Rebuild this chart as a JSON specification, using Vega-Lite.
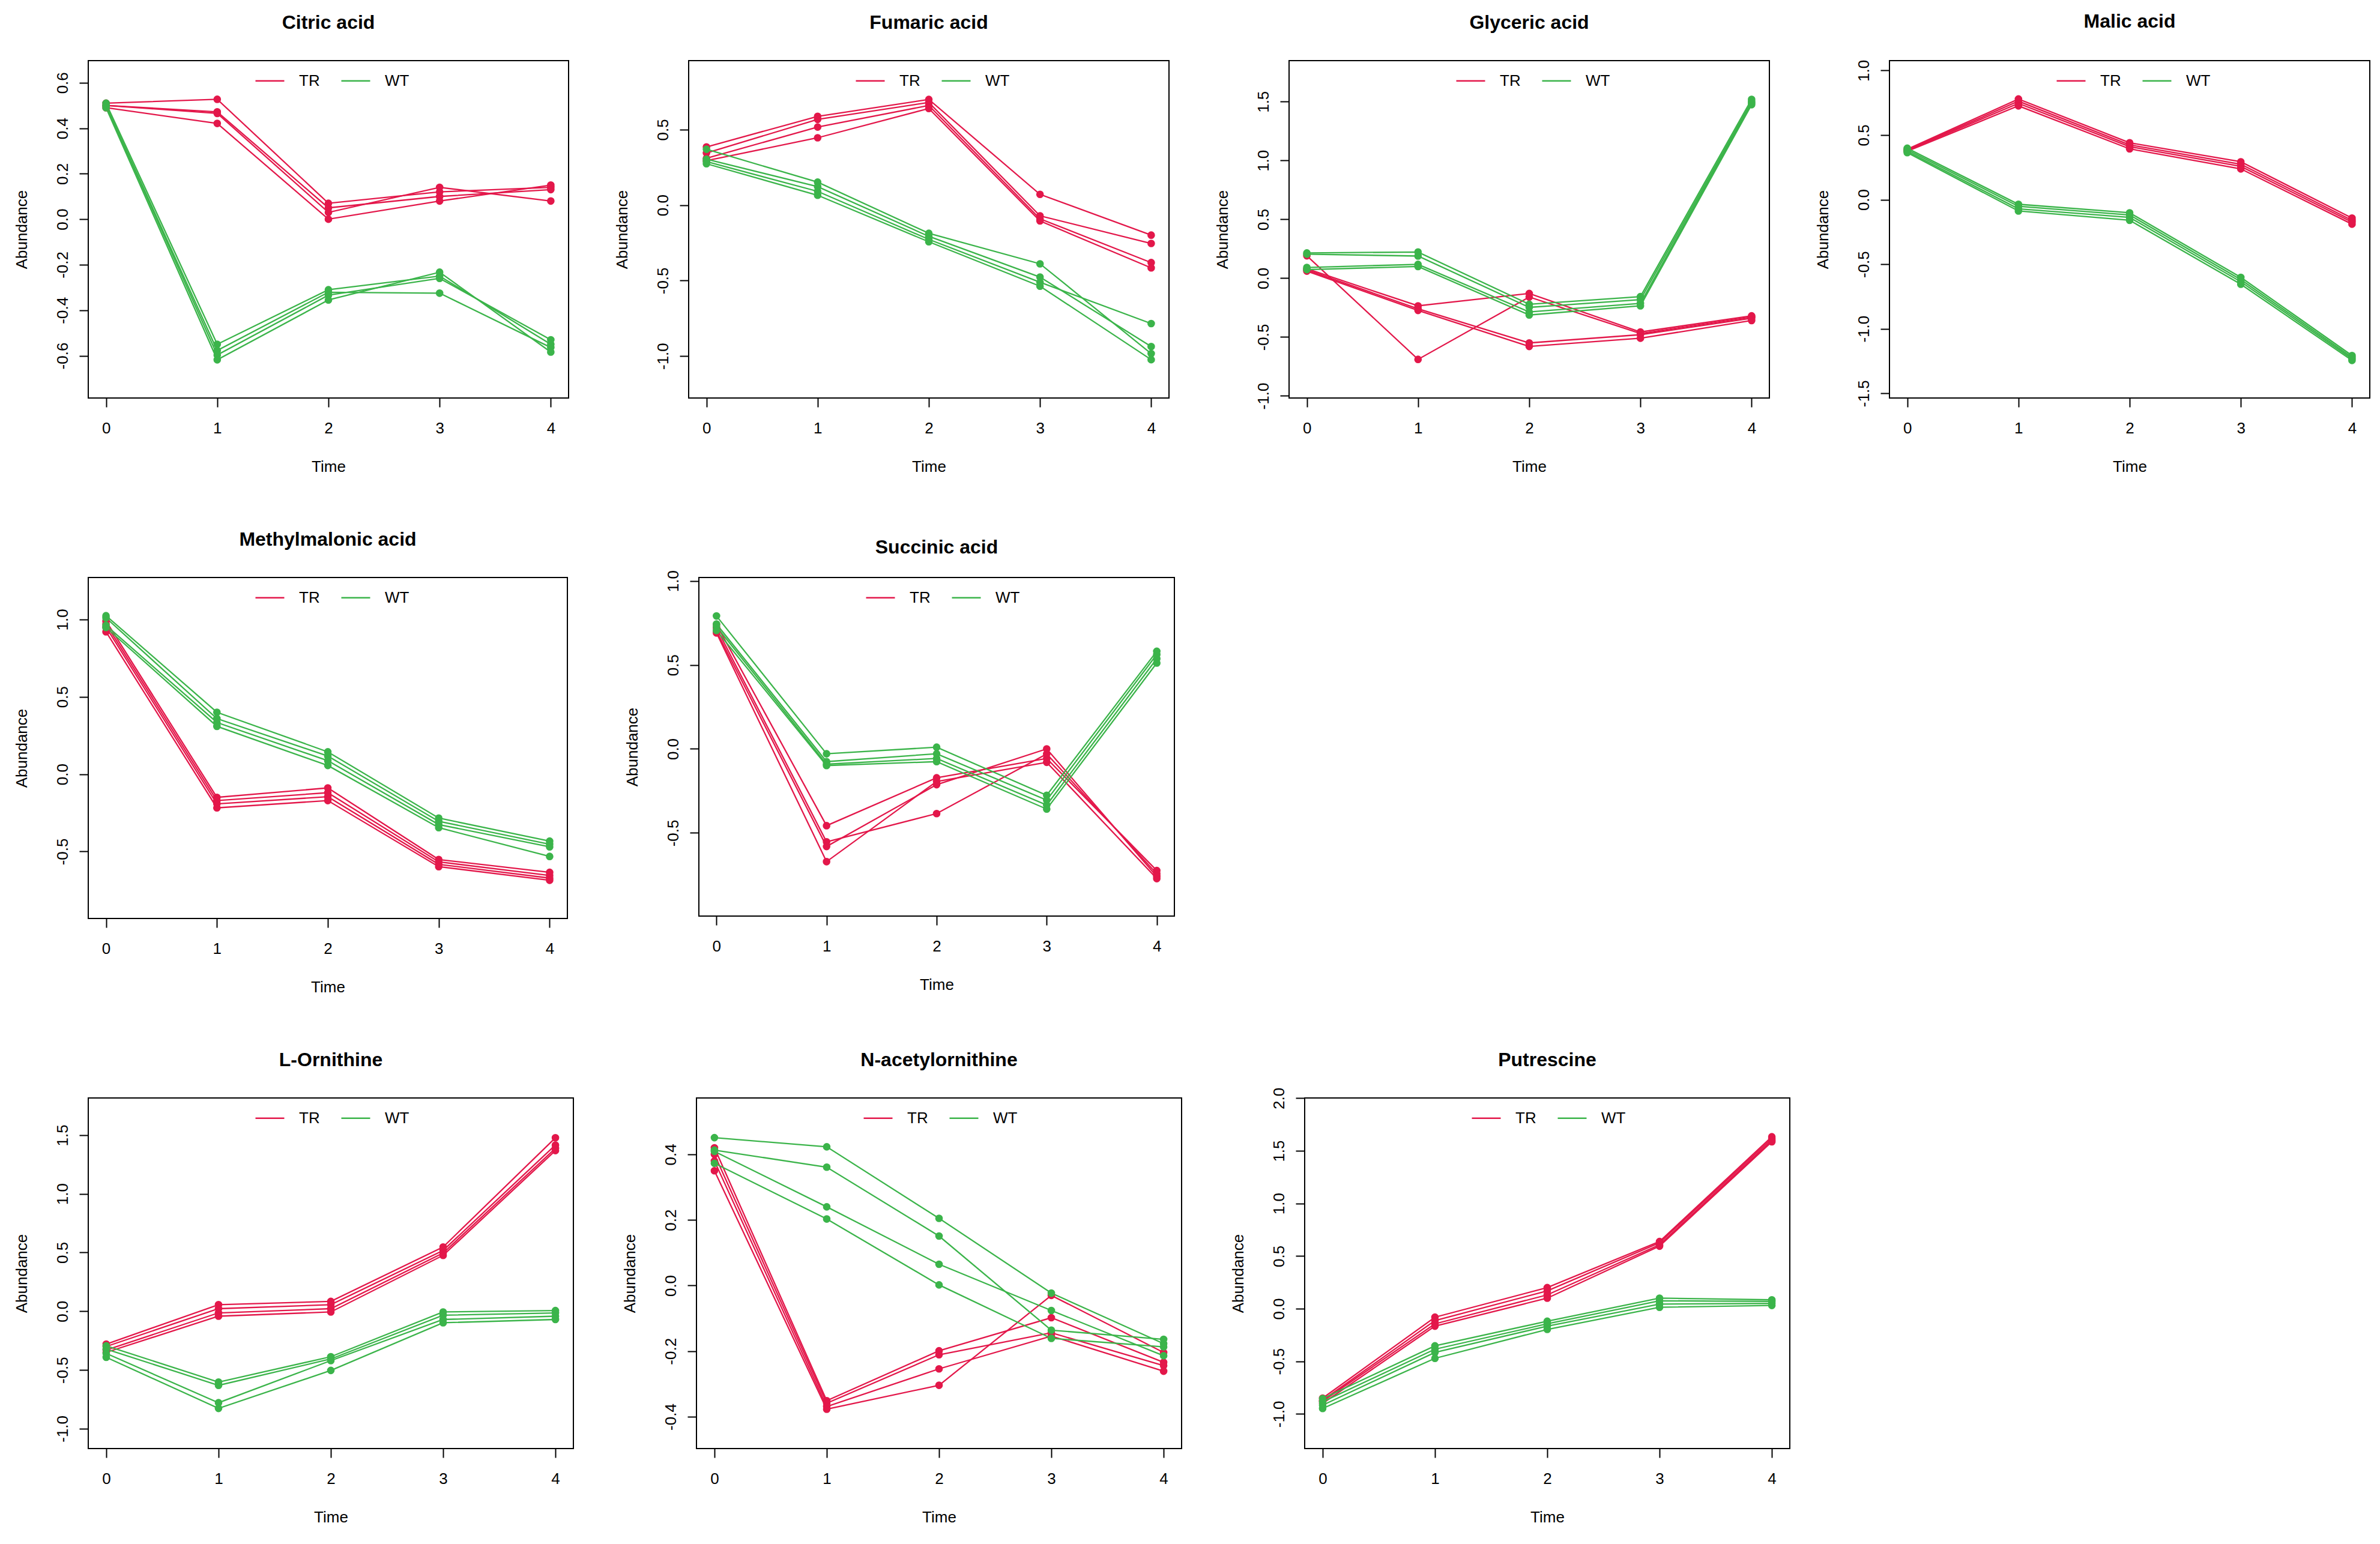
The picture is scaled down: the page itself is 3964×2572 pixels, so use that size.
{
"$schema": "https://vega.github.io/schema/vega-lite/v6.json",
"background": "white",
"padding": {"left": 22, "top": 19, "right": 10, "bottom": 10},
"data": {"values": [
{"m":"Cit","g":"TR","r":1,"t":0,"v":0.51},{"m":"Cit","g":"TR","r":1,"t":1,"v":0.527},{"m":"Cit","g":"TR","r":1,"t":2,"v":0.07},{"m":"Cit","g":"TR","r":1,"t":3,"v":0.12},{"m":"Cit","g":"TR","r":1,"t":4,"v":0.14},
{"m":"Cit","g":"TR","r":2,"t":0,"v":0.50},{"m":"Cit","g":"TR","r":2,"t":1,"v":0.472},{"m":"Cit","g":"TR","r":2,"t":2,"v":0.05},{"m":"Cit","g":"TR","r":2,"t":3,"v":0.10},{"m":"Cit","g":"TR","r":2,"t":4,"v":0.13},
{"m":"Cit","g":"TR","r":3,"t":0,"v":0.50},{"m":"Cit","g":"TR","r":3,"t":1,"v":0.465},{"m":"Cit","g":"TR","r":3,"t":2,"v":0.03},{"m":"Cit","g":"TR","r":3,"t":3,"v":0.14},{"m":"Cit","g":"TR","r":3,"t":4,"v":0.08},
{"m":"Cit","g":"TR","r":4,"t":0,"v":0.49},{"m":"Cit","g":"TR","r":4,"t":1,"v":0.421},{"m":"Cit","g":"TR","r":4,"t":2,"v":0.00},{"m":"Cit","g":"TR","r":4,"t":3,"v":0.08},{"m":"Cit","g":"TR","r":4,"t":4,"v":0.15},
{"m":"Fum","g":"TR","r":1,"t":0,"v":0.385},{"m":"Fum","g":"TR","r":1,"t":1,"v":0.588},{"m":"Fum","g":"TR","r":1,"t":2,"v":0.70},{"m":"Fum","g":"TR","r":1,"t":3,"v":0.071},{"m":"Fum","g":"TR","r":1,"t":4,"v":-0.199},
{"m":"Fum","g":"TR","r":2,"t":0,"v":0.345},{"m":"Fum","g":"TR","r":2,"t":1,"v":0.568},{"m":"Fum","g":"TR","r":2,"t":2,"v":0.68},{"m":"Fum","g":"TR","r":2,"t":3,"v":-0.071},{"m":"Fum","g":"TR","r":2,"t":4,"v":-0.254},
{"m":"Fum","g":"TR","r":3,"t":0,"v":0.31},{"m":"Fum","g":"TR","r":3,"t":1,"v":0.517},{"m":"Fum","g":"TR","r":3,"t":2,"v":0.66},{"m":"Fum","g":"TR","r":3,"t":3,"v":-0.091},{"m":"Fum","g":"TR","r":3,"t":4,"v":-0.381},
{"m":"Fum","g":"TR","r":4,"t":0,"v":0.294},{"m":"Fum","g":"TR","r":4,"t":1,"v":0.446},{"m":"Fum","g":"TR","r":4,"t":2,"v":0.64},{"m":"Fum","g":"TR","r":4,"t":3,"v":-0.105},{"m":"Fum","g":"TR","r":4,"t":4,"v":-0.416},
{"m":"Gly","g":"TR","r":1,"t":0,"v":0.19},{"m":"Gly","g":"TR","r":1,"t":1,"v":-0.69},{"m":"Gly","g":"TR","r":1,"t":2,"v":-0.16},{"m":"Gly","g":"TR","r":1,"t":3,"v":-0.47},{"m":"Gly","g":"TR","r":1,"t":4,"v":-0.33},
{"m":"Gly","g":"TR","r":2,"t":0,"v":0.08},{"m":"Gly","g":"TR","r":2,"t":1,"v":-0.235},{"m":"Gly","g":"TR","r":2,"t":2,"v":-0.13},{"m":"Gly","g":"TR","r":2,"t":3,"v":-0.457},{"m":"Gly","g":"TR","r":2,"t":4,"v":-0.32},
{"m":"Gly","g":"TR","r":3,"t":0,"v":0.07},{"m":"Gly","g":"TR","r":3,"t":1,"v":-0.26},{"m":"Gly","g":"TR","r":3,"t":2,"v":-0.55},{"m":"Gly","g":"TR","r":3,"t":3,"v":-0.48},{"m":"Gly","g":"TR","r":3,"t":4,"v":-0.34},
{"m":"Gly","g":"TR","r":4,"t":0,"v":0.06},{"m":"Gly","g":"TR","r":4,"t":1,"v":-0.274},{"m":"Gly","g":"TR","r":4,"t":2,"v":-0.58},{"m":"Gly","g":"TR","r":4,"t":3,"v":-0.51},{"m":"Gly","g":"TR","r":4,"t":4,"v":-0.36},
{"m":"Mal","g":"TR","r":1,"t":0,"v":0.39},{"m":"Mal","g":"TR","r":1,"t":1,"v":0.779},{"m":"Mal","g":"TR","r":1,"t":2,"v":0.44},{"m":"Mal","g":"TR","r":1,"t":3,"v":0.293},{"m":"Mal","g":"TR","r":1,"t":4,"v":-0.143},
{"m":"Mal","g":"TR","r":2,"t":0,"v":0.385},{"m":"Mal","g":"TR","r":2,"t":1,"v":0.762},{"m":"Mal","g":"TR","r":2,"t":2,"v":0.424},{"m":"Mal","g":"TR","r":2,"t":3,"v":0.274},{"m":"Mal","g":"TR","r":2,"t":4,"v":-0.16},
{"m":"Mal","g":"TR","r":3,"t":0,"v":0.38},{"m":"Mal","g":"TR","r":3,"t":1,"v":0.745},{"m":"Mal","g":"TR","r":3,"t":2,"v":0.41},{"m":"Mal","g":"TR","r":3,"t":3,"v":0.257},{"m":"Mal","g":"TR","r":3,"t":4,"v":-0.174},
{"m":"Mal","g":"TR","r":4,"t":0,"v":0.375},{"m":"Mal","g":"TR","r":4,"t":1,"v":0.726},{"m":"Mal","g":"TR","r":4,"t":2,"v":0.393},{"m":"Mal","g":"TR","r":4,"t":3,"v":0.238},{"m":"Mal","g":"TR","r":4,"t":4,"v":-0.19},
{"m":"Met","g":"TR","r":1,"t":0,"v":0.99},{"m":"Met","g":"TR","r":1,"t":1,"v":-0.15},{"m":"Met","g":"TR","r":1,"t":2,"v":-0.089},{"m":"Met","g":"TR","r":1,"t":3,"v":-0.552},{"m":"Met","g":"TR","r":1,"t":4,"v":-0.635},
{"m":"Met","g":"TR","r":2,"t":0,"v":0.97},{"m":"Met","g":"TR","r":2,"t":1,"v":-0.171},{"m":"Met","g":"TR","r":2,"t":2,"v":-0.12},{"m":"Met","g":"TR","r":2,"t":3,"v":-0.567},{"m":"Met","g":"TR","r":2,"t":4,"v":-0.655},
{"m":"Met","g":"TR","r":3,"t":0,"v":0.95},{"m":"Met","g":"TR","r":3,"t":1,"v":-0.192},{"m":"Met","g":"TR","r":3,"t":2,"v":-0.146},{"m":"Met","g":"TR","r":3,"t":3,"v":-0.583},{"m":"Met","g":"TR","r":3,"t":4,"v":-0.672},
{"m":"Met","g":"TR","r":4,"t":0,"v":0.92},{"m":"Met","g":"TR","r":4,"t":1,"v":-0.218},{"m":"Met","g":"TR","r":4,"t":2,"v":-0.171},{"m":"Met","g":"TR","r":4,"t":3,"v":-0.598},{"m":"Met","g":"TR","r":4,"t":4,"v":-0.686},
{"m":"Suc","g":"TR","r":1,"t":0,"v":0.74},{"m":"Suc","g":"TR","r":1,"t":1,"v":-0.457},{"m":"Suc","g":"TR","r":1,"t":2,"v":-0.172},{"m":"Suc","g":"TR","r":1,"t":3,"v":-0.057},{"m":"Suc","g":"TR","r":1,"t":4,"v":-0.724},
{"m":"Suc","g":"TR","r":2,"t":0,"v":0.72},{"m":"Suc","g":"TR","r":2,"t":1,"v":-0.553},{"m":"Suc","g":"TR","r":2,"t":2,"v":-0.385},{"m":"Suc","g":"TR","r":2,"t":3,"v":-0.03},{"m":"Suc","g":"TR","r":2,"t":4,"v":-0.743},
{"m":"Suc","g":"TR","r":3,"t":0,"v":0.70},{"m":"Suc","g":"TR","r":3,"t":1,"v":-0.581},{"m":"Suc","g":"TR","r":3,"t":2,"v":-0.213},{"m":"Suc","g":"TR","r":3,"t":3,"v":0.0},{"m":"Suc","g":"TR","r":3,"t":4,"v":-0.759},
{"m":"Suc","g":"TR","r":4,"t":0,"v":0.69},{"m":"Suc","g":"TR","r":4,"t":1,"v":-0.671},{"m":"Suc","g":"TR","r":4,"t":2,"v":-0.194},{"m":"Suc","g":"TR","r":4,"t":3,"v":-0.08},{"m":"Suc","g":"TR","r":4,"t":4,"v":-0.772},
{"m":"Orn","g":"TR","r":1,"t":0,"v":-0.28},{"m":"Orn","g":"TR","r":1,"t":1,"v":0.056},{"m":"Orn","g":"TR","r":1,"t":2,"v":0.084},{"m":"Orn","g":"TR","r":1,"t":3,"v":0.547},{"m":"Orn","g":"TR","r":1,"t":4,"v":1.477},
{"m":"Orn","g":"TR","r":2,"t":0,"v":-0.30},{"m":"Orn","g":"TR","r":2,"t":1,"v":0.022},{"m":"Orn","g":"TR","r":2,"t":2,"v":0.056},{"m":"Orn","g":"TR","r":2,"t":3,"v":0.518},{"m":"Orn","g":"TR","r":2,"t":4,"v":1.415},
{"m":"Orn","g":"TR","r":3,"t":0,"v":-0.33},{"m":"Orn","g":"TR","r":3,"t":1,"v":-0.014},{"m":"Orn","g":"TR","r":3,"t":2,"v":0.022},{"m":"Orn","g":"TR","r":3,"t":3,"v":0.496},{"m":"Orn","g":"TR","r":3,"t":4,"v":1.387},
{"m":"Orn","g":"TR","r":4,"t":0,"v":-0.35},{"m":"Orn","g":"TR","r":4,"t":1,"v":-0.042},{"m":"Orn","g":"TR","r":4,"t":2,"v":-0.006},{"m":"Orn","g":"TR","r":4,"t":3,"v":0.476},{"m":"Orn","g":"TR","r":4,"t":4,"v":1.368},
{"m":"NAc","g":"TR","r":1,"t":0,"v":0.42},{"m":"NAc","g":"TR","r":1,"t":1,"v":-0.351},{"m":"NAc","g":"TR","r":1,"t":2,"v":-0.199},{"m":"NAc","g":"TR","r":1,"t":3,"v":-0.098},{"m":"NAc","g":"TR","r":1,"t":4,"v":-0.234},
{"m":"NAc","g":"TR","r":2,"t":0,"v":0.40},{"m":"NAc","g":"TR","r":2,"t":1,"v":-0.359},{"m":"NAc","g":"TR","r":2,"t":2,"v":-0.211},{"m":"NAc","g":"TR","r":2,"t":3,"v":-0.144},{"m":"NAc","g":"TR","r":2,"t":4,"v":-0.244},
{"m":"NAc","g":"TR","r":3,"t":0,"v":0.38},{"m":"NAc","g":"TR","r":3,"t":1,"v":-0.369},{"m":"NAc","g":"TR","r":3,"t":2,"v":-0.254},{"m":"NAc","g":"TR","r":3,"t":3,"v":-0.154},{"m":"NAc","g":"TR","r":3,"t":4,"v":-0.261},
{"m":"NAc","g":"TR","r":4,"t":0,"v":0.35},{"m":"NAc","g":"TR","r":4,"t":1,"v":-0.377},{"m":"NAc","g":"TR","r":4,"t":2,"v":-0.304},{"m":"NAc","g":"TR","r":4,"t":3,"v":-0.03},{"m":"NAc","g":"TR","r":4,"t":4,"v":-0.204},
{"m":"Put","g":"TR","r":1,"t":0,"v":-0.85},{"m":"Put","g":"TR","r":1,"t":1,"v":-0.081},{"m":"Put","g":"TR","r":1,"t":2,"v":0.20},{"m":"Put","g":"TR","r":1,"t":3,"v":0.638},{"m":"Put","g":"TR","r":1,"t":4,"v":1.633},
{"m":"Put","g":"TR","r":2,"t":0,"v":-0.87},{"m":"Put","g":"TR","r":2,"t":1,"v":-0.113},{"m":"Put","g":"TR","r":2,"t":2,"v":0.169},{"m":"Put","g":"TR","r":2,"t":3,"v":0.626},{"m":"Put","g":"TR","r":2,"t":4,"v":1.617},
{"m":"Put","g":"TR","r":3,"t":0,"v":-0.88},{"m":"Put","g":"TR","r":3,"t":1,"v":-0.144},{"m":"Put","g":"TR","r":3,"t":2,"v":0.131},{"m":"Put","g":"TR","r":3,"t":3,"v":0.607},{"m":"Put","g":"TR","r":3,"t":4,"v":1.601},
{"m":"Put","g":"TR","r":4,"t":0,"v":-0.90},{"m":"Put","g":"TR","r":4,"t":1,"v":-0.166},{"m":"Put","g":"TR","r":4,"t":2,"v":0.10},{"m":"Put","g":"TR","r":4,"t":3,"v":0.594},{"m":"Put","g":"TR","r":4,"t":4,"v":1.586},
{"m":"Cit","g":"WT","r":1,"t":0,"v":0.51},{"m":"Cit","g":"WT","r":1,"t":1,"v":-0.55},{"m":"Cit","g":"WT","r":1,"t":2,"v":-0.31},{"m":"Cit","g":"WT","r":1,"t":3,"v":-0.25},{"m":"Cit","g":"WT","r":1,"t":4,"v":-0.55},
{"m":"Cit","g":"WT","r":2,"t":0,"v":0.50},{"m":"Cit","g":"WT","r":2,"t":1,"v":-0.577},{"m":"Cit","g":"WT","r":2,"t":2,"v":-0.321},{"m":"Cit","g":"WT","r":2,"t":3,"v":-0.325},{"m":"Cit","g":"WT","r":2,"t":4,"v":-0.564},
{"m":"Cit","g":"WT","r":3,"t":0,"v":0.50},{"m":"Cit","g":"WT","r":3,"t":1,"v":-0.597},{"m":"Cit","g":"WT","r":3,"t":2,"v":-0.334},{"m":"Cit","g":"WT","r":3,"t":3,"v":-0.26},{"m":"Cit","g":"WT","r":3,"t":4,"v":-0.53},
{"m":"Cit","g":"WT","r":4,"t":0,"v":0.49},{"m":"Cit","g":"WT","r":4,"t":1,"v":-0.618},{"m":"Cit","g":"WT","r":4,"t":2,"v":-0.355},{"m":"Cit","g":"WT","r":4,"t":3,"v":-0.233},{"m":"Cit","g":"WT","r":4,"t":4,"v":-0.584},
{"m":"Fum","g":"WT","r":1,"t":0,"v":0.37},{"m":"Fum","g":"WT","r":1,"t":1,"v":0.152},{"m":"Fum","g":"WT","r":1,"t":2,"v":-0.187},{"m":"Fum","g":"WT","r":1,"t":3,"v":-0.389},{"m":"Fum","g":"WT","r":1,"t":4,"v":-0.984},
{"m":"Fum","g":"WT","r":2,"t":0,"v":0.304},{"m":"Fum","g":"WT","r":2,"t":1,"v":0.122},{"m":"Fum","g":"WT","r":2,"t":2,"v":-0.207},{"m":"Fum","g":"WT","r":2,"t":3,"v":-0.477},{"m":"Fum","g":"WT","r":2,"t":4,"v":-0.937},
{"m":"Fum","g":"WT","r":3,"t":0,"v":0.288},{"m":"Fum","g":"WT","r":3,"t":1,"v":0.091},{"m":"Fum","g":"WT","r":3,"t":2,"v":-0.227},{"m":"Fum","g":"WT","r":3,"t":3,"v":-0.511},{"m":"Fum","g":"WT","r":3,"t":4,"v":-0.785},
{"m":"Fum","g":"WT","r":4,"t":0,"v":0.274},{"m":"Fum","g":"WT","r":4,"t":1,"v":0.065},{"m":"Fum","g":"WT","r":4,"t":2,"v":-0.243},{"m":"Fum","g":"WT","r":4,"t":3,"v":-0.537},{"m":"Fum","g":"WT","r":4,"t":4,"v":-1.024},
{"m":"Gly","g":"WT","r":1,"t":0,"v":0.214},{"m":"Gly","g":"WT","r":1,"t":1,"v":0.222},{"m":"Gly","g":"WT","r":1,"t":2,"v":-0.222},{"m":"Gly","g":"WT","r":1,"t":3,"v":-0.157},{"m":"Gly","g":"WT","r":1,"t":4,"v":1.519},
{"m":"Gly","g":"WT","r":2,"t":0,"v":0.204},{"m":"Gly","g":"WT","r":2,"t":1,"v":0.188},{"m":"Gly","g":"WT","r":2,"t":2,"v":-0.248},{"m":"Gly","g":"WT","r":2,"t":3,"v":-0.183},{"m":"Gly","g":"WT","r":2,"t":4,"v":1.50},
{"m":"Gly","g":"WT","r":3,"t":0,"v":0.091},{"m":"Gly","g":"WT","r":3,"t":1,"v":0.117},{"m":"Gly","g":"WT","r":3,"t":2,"v":-0.287},{"m":"Gly","g":"WT","r":3,"t":3,"v":-0.214},{"m":"Gly","g":"WT","r":3,"t":4,"v":1.488},
{"m":"Gly","g":"WT","r":4,"t":0,"v":0.073},{"m":"Gly","g":"WT","r":4,"t":1,"v":0.099},{"m":"Gly","g":"WT","r":4,"t":2,"v":-0.313},{"m":"Gly","g":"WT","r":4,"t":3,"v":-0.235},{"m":"Gly","g":"WT","r":4,"t":4,"v":1.474},
{"m":"Mal","g":"WT","r":1,"t":0,"v":0.398},{"m":"Mal","g":"WT","r":1,"t":1,"v":-0.036},{"m":"Mal","g":"WT","r":1,"t":2,"v":-0.102},{"m":"Mal","g":"WT","r":1,"t":3,"v":-0.602},{"m":"Mal","g":"WT","r":1,"t":4,"v":-1.207},
{"m":"Mal","g":"WT","r":2,"t":0,"v":0.386},{"m":"Mal","g":"WT","r":2,"t":1,"v":-0.052},{"m":"Mal","g":"WT","r":2,"t":2,"v":-0.119},{"m":"Mal","g":"WT","r":2,"t":3,"v":-0.619},{"m":"Mal","g":"WT","r":2,"t":4,"v":-1.221},
{"m":"Mal","g":"WT","r":3,"t":0,"v":0.374},{"m":"Mal","g":"WT","r":3,"t":1,"v":-0.071},{"m":"Mal","g":"WT","r":3,"t":2,"v":-0.138},{"m":"Mal","g":"WT","r":3,"t":3,"v":-0.636},{"m":"Mal","g":"WT","r":3,"t":4,"v":-1.233},
{"m":"Mal","g":"WT","r":4,"t":0,"v":0.364},{"m":"Mal","g":"WT","r":4,"t":1,"v":-0.088},{"m":"Mal","g":"WT","r":4,"t":2,"v":-0.16},{"m":"Mal","g":"WT","r":4,"t":3,"v":-0.655},{"m":"Mal","g":"WT","r":4,"t":4,"v":-1.245},
{"m":"Met","g":"WT","r":1,"t":0,"v":1.024},{"m":"Met","g":"WT","r":1,"t":1,"v":0.40},{"m":"Met","g":"WT","r":1,"t":2,"v":0.144},{"m":"Met","g":"WT","r":1,"t":3,"v":-0.284},{"m":"Met","g":"WT","r":1,"t":4,"v":-0.433},
{"m":"Met","g":"WT","r":2,"t":0,"v":1.01},{"m":"Met","g":"WT","r":2,"t":1,"v":0.359},{"m":"Met","g":"WT","r":2,"t":2,"v":0.117},{"m":"Met","g":"WT","r":2,"t":3,"v":-0.305},{"m":"Met","g":"WT","r":2,"t":4,"v":-0.453},
{"m":"Met","g":"WT","r":3,"t":0,"v":0.962},{"m":"Met","g":"WT","r":3,"t":1,"v":0.334},{"m":"Met","g":"WT","r":3,"t":2,"v":0.087},{"m":"Met","g":"WT","r":3,"t":3,"v":-0.326},{"m":"Met","g":"WT","r":3,"t":4,"v":-0.47},
{"m":"Met","g":"WT","r":4,"t":0,"v":0.948},{"m":"Met","g":"WT","r":4,"t":1,"v":0.309},{"m":"Met","g":"WT","r":4,"t":2,"v":0.056},{"m":"Met","g":"WT","r":4,"t":3,"v":-0.346},{"m":"Met","g":"WT","r":4,"t":4,"v":-0.532},
{"m":"Suc","g":"WT","r":1,"t":0,"v":0.791},{"m":"Suc","g":"WT","r":1,"t":1,"v":-0.029},{"m":"Suc","g":"WT","r":1,"t":2,"v":0.01},{"m":"Suc","g":"WT","r":1,"t":3,"v":-0.276},{"m":"Suc","g":"WT","r":1,"t":4,"v":0.581},
{"m":"Suc","g":"WT","r":2,"t":0,"v":0.743},{"m":"Suc","g":"WT","r":2,"t":1,"v":-0.076},{"m":"Suc","g":"WT","r":2,"t":2,"v":-0.029},{"m":"Suc","g":"WT","r":2,"t":3,"v":-0.305},{"m":"Suc","g":"WT","r":2,"t":4,"v":0.562},
{"m":"Suc","g":"WT","r":3,"t":0,"v":0.728},{"m":"Suc","g":"WT","r":3,"t":1,"v":-0.091},{"m":"Suc","g":"WT","r":3,"t":2,"v":-0.057},{"m":"Suc","g":"WT","r":3,"t":3,"v":-0.334},{"m":"Suc","g":"WT","r":3,"t":4,"v":0.537},
{"m":"Suc","g":"WT","r":4,"t":0,"v":0.705},{"m":"Suc","g":"WT","r":4,"t":1,"v":-0.099},{"m":"Suc","g":"WT","r":4,"t":2,"v":-0.076},{"m":"Suc","g":"WT","r":4,"t":3,"v":-0.358},{"m":"Suc","g":"WT","r":4,"t":4,"v":0.511},
{"m":"Orn","g":"WT","r":1,"t":0,"v":-0.294},{"m":"Orn","g":"WT","r":1,"t":1,"v":-0.603},{"m":"Orn","g":"WT","r":1,"t":2,"v":-0.387},{"m":"Orn","g":"WT","r":1,"t":3,"v":-0.006},{"m":"Orn","g":"WT","r":1,"t":4,"v":0.006},
{"m":"Orn","g":"WT","r":2,"t":0,"v":-0.322},{"m":"Orn","g":"WT","r":2,"t":1,"v":-0.631},{"m":"Orn","g":"WT","r":2,"t":2,"v":-0.406},{"m":"Orn","g":"WT","r":2,"t":3,"v":-0.034},{"m":"Orn","g":"WT","r":2,"t":4,"v":-0.014},
{"m":"Orn","g":"WT","r":3,"t":0,"v":-0.359},{"m":"Orn","g":"WT","r":3,"t":1,"v":-0.779},{"m":"Orn","g":"WT","r":3,"t":2,"v":-0.42},{"m":"Orn","g":"WT","r":3,"t":3,"v":-0.07},{"m":"Orn","g":"WT","r":3,"t":4,"v":-0.042},
{"m":"Orn","g":"WT","r":4,"t":0,"v":-0.392},{"m":"Orn","g":"WT","r":4,"t":1,"v":-0.827},{"m":"Orn","g":"WT","r":4,"t":2,"v":-0.504},{"m":"Orn","g":"WT","r":4,"t":3,"v":-0.098},{"m":"Orn","g":"WT","r":4,"t":4,"v":-0.07},
{"m":"NAc","g":"WT","r":1,"t":0,"v":0.451},{"m":"NAc","g":"WT","r":1,"t":1,"v":0.423},{"m":"NAc","g":"WT","r":1,"t":2,"v":0.205},{"m":"NAc","g":"WT","r":1,"t":3,"v":-0.023},{"m":"NAc","g":"WT","r":1,"t":4,"v":-0.177},
{"m":"NAc","g":"WT","r":2,"t":0,"v":0.413},{"m":"NAc","g":"WT","r":2,"t":1,"v":0.361},{"m":"NAc","g":"WT","r":2,"t":2,"v":0.151},{"m":"NAc","g":"WT","r":2,"t":3,"v":-0.136},{"m":"NAc","g":"WT","r":2,"t":4,"v":-0.164},
{"m":"NAc","g":"WT","r":3,"t":0,"v":0.409},{"m":"NAc","g":"WT","r":3,"t":1,"v":0.24},{"m":"NAc","g":"WT","r":3,"t":2,"v":0.065},{"m":"NAc","g":"WT","r":3,"t":3,"v":-0.076},{"m":"NAc","g":"WT","r":3,"t":4,"v":-0.214},
{"m":"NAc","g":"WT","r":4,"t":0,"v":0.373},{"m":"NAc","g":"WT","r":4,"t":1,"v":0.203},{"m":"NAc","g":"WT","r":4,"t":2,"v":0.002},{"m":"NAc","g":"WT","r":4,"t":3,"v":-0.161},{"m":"NAc","g":"WT","r":4,"t":4,"v":-0.187},
{"m":"Put","g":"WT","r":1,"t":0,"v":-0.854},{"m":"Put","g":"WT","r":1,"t":1,"v":-0.353},{"m":"Put","g":"WT","r":1,"t":2,"v":-0.119},{"m":"Put","g":"WT","r":1,"t":3,"v":0.10},{"m":"Put","g":"WT","r":1,"t":4,"v":0.084},
{"m":"Put","g":"WT","r":2,"t":0,"v":-0.885},{"m":"Put","g":"WT","r":2,"t":1,"v":-0.385},{"m":"Put","g":"WT","r":2,"t":2,"v":-0.144},{"m":"Put","g":"WT","r":2,"t":3,"v":0.075},{"m":"Put","g":"WT","r":2,"t":4,"v":0.069},
{"m":"Put","g":"WT","r":3,"t":0,"v":-0.917},{"m":"Put","g":"WT","r":3,"t":1,"v":-0.416},{"m":"Put","g":"WT","r":3,"t":2,"v":-0.166},{"m":"Put","g":"WT","r":3,"t":3,"v":0.044},{"m":"Put","g":"WT","r":3,"t":4,"v":0.05},
{"m":"Put","g":"WT","r":4,"t":0,"v":-0.948},{"m":"Put","g":"WT","r":4,"t":1,"v":-0.472},{"m":"Put","g":"WT","r":4,"t":2,"v":-0.197},{"m":"Put","g":"WT","r":4,"t":3,"v":0.013},{"m":"Put","g":"WT","r":4,"t":4,"v":0.031}
]},
"config": {
  "font": "Liberation Sans",
  "view": {"stroke": "#000000", "strokeWidth": 2},
  "axis": {"domain": false, "grid": false, "tickColor": "#000000", "tickWidth": 2, "tickSize": 15, "labelFont": "Liberation Sans", "labelFontSize": 26, "labelColor": "#000000", "labelFlush": false, "labelOverlap": false, "titleFont": "Liberation Sans", "titleFontSize": 26, "titleFontWeight": "normal", "titleColor": "#000000"},
  "axisX": {"labelAngle": 0, "labelPadding": 22, "titlePadding": 38},
  "axisY": {"labelAngle": -90, "labelAlign": "center", "labelBaseline": "bottom", "labelPadding": 15, "titlePadding": 42},
  "title": {"font": "Liberation Sans", "fontSize": 32, "fontWeight": "bold", "color": "#000000", "anchor": "middle", "offset": 46},
  "legend": {"orient": "none", "legendX": 277, "legendY": 8, "direction": "horizontal", "symbolType": "stroke", "symbolSize": 2304, "symbolStrokeWidth": 2.5, "labelFont": "Liberation Sans", "labelFontSize": 26, "labelColor": "#000000", "labelOffset": 23, "columnPadding": 30, "padding": 0}
},
"spacing": 91,
"resolve": {"scale": {"color": "independent"}, "legend": {"color": "independent"}},
"vconcat": [
{"spacing": 200, "bounds": "flush", "resolve": {"scale": {"color": "independent"}, "legend": {"color": "independent"}}, "hconcat": [
 {"title": "Citric acid", "width": 800, "height": 562, "transform": [{"filter": "datum.m === 'Cit'"}],
  "encoding": {"x": {"field": "t", "type": "quantitative", "scale": {"domain": [-0.16, 4.16], "nice": false, "zero": false}, "axis": {"values": [0,1,2,3,4], "format": "d", "title": "Time"}},
   "y": {"field": "v", "type": "quantitative", "scale": {"domain": [-0.786, 0.697], "nice": false, "zero": false}, "axis": {"values": [-0.6,-0.4,-0.2,0,0.2,0.4,0.6], "title": "Abundance", "labelExpr": "datum.value < 0 ? '-' + format(-datum.value, '.1f') : format(datum.value, '.1f')"}}},
  "layer": [
   {"mark": {"type": "line", "strokeWidth": 2.3}, "encoding": {"detail": {"field": "r"}, "color": {"field": "g", "type": "nominal", "scale": {"domain": ["TR","WT"], "range": ["#E3174A","#3BB44A"]}, "legend": {"title": null}}}},
   {"mark": {"type": "circle", "size": 160, "opacity": 1}, "encoding": {"color": {"field": "g", "type": "nominal", "scale": {"domain": ["TR","WT"], "range": ["#E3174A","#3BB44A"]}, "legend": null}}}
  ]},
 {"title": "Fumaric acid", "width": 800, "height": 562, "transform": [{"filter": "datum.m === 'Fum'"}],
  "encoding": {"x": {"field": "t", "type": "quantitative", "scale": {"domain": [-0.16, 4.16], "nice": false, "zero": false}, "axis": {"values": [0,1,2,3,4], "format": "d", "title": "Time"}},
   "y": {"field": "v", "type": "quantitative", "scale": {"domain": [-1.278, 0.957], "nice": false, "zero": false}, "axis": {"values": [-1,-0.5,0,0.5], "title": "Abundance", "labelExpr": "datum.value < 0 ? '-' + format(-datum.value, '.1f') : format(datum.value, '.1f')"}}},
  "layer": [
   {"mark": {"type": "line", "strokeWidth": 2.3}, "encoding": {"detail": {"field": "r"}, "color": {"field": "g", "type": "nominal", "scale": {"domain": ["TR","WT"], "range": ["#E3174A","#3BB44A"]}, "legend": {"title": null}}}},
   {"mark": {"type": "circle", "size": 160, "opacity": 1}, "encoding": {"color": {"field": "g", "type": "nominal", "scale": {"domain": ["TR","WT"], "range": ["#E3174A","#3BB44A"]}, "legend": null}}}
  ]},
 {"title": "Glyceric acid", "width": 800, "height": 562, "transform": [{"filter": "datum.m === 'Gly'"}],
  "encoding": {"x": {"field": "t", "type": "quantitative", "scale": {"domain": [-0.16, 4.16], "nice": false, "zero": false}, "axis": {"values": [0,1,2,3,4], "format": "d", "title": "Time"}},
   "y": {"field": "v", "type": "quantitative", "scale": {"domain": [-1.018, 1.848], "nice": false, "zero": false}, "axis": {"values": [-1,-0.5,0,0.5,1,1.5], "title": "Abundance", "labelExpr": "datum.value < 0 ? '-' + format(-datum.value, '.1f') : format(datum.value, '.1f')"}}},
  "layer": [
   {"mark": {"type": "line", "strokeWidth": 2.3}, "encoding": {"detail": {"field": "r"}, "color": {"field": "g", "type": "nominal", "scale": {"domain": ["TR","WT"], "range": ["#E3174A","#3BB44A"]}, "legend": {"title": null}}}},
   {"mark": {"type": "circle", "size": 160, "opacity": 1}, "encoding": {"color": {"field": "g", "type": "nominal", "scale": {"domain": ["TR","WT"], "range": ["#E3174A","#3BB44A"]}, "legend": null}}}
  ]},
 {"title": "Malic acid", "width": 800, "height": 562, "transform": [{"filter": "datum.m === 'Mal'"}],
  "encoding": {"x": {"field": "t", "type": "quantitative", "scale": {"domain": [-0.16, 4.16], "nice": false, "zero": false}, "axis": {"values": [0,1,2,3,4], "format": "d", "title": "Time"}},
   "y": {"field": "v", "type": "quantitative", "scale": {"domain": [-1.536, 1.076], "nice": false, "zero": false}, "axis": {"values": [-1.5,-1,-0.5,0,0.5,1], "title": "Abundance", "labelExpr": "datum.value < 0 ? '-' + format(-datum.value, '.1f') : format(datum.value, '.1f')"}}},
  "layer": [
   {"mark": {"type": "line", "strokeWidth": 2.3}, "encoding": {"detail": {"field": "r"}, "color": {"field": "g", "type": "nominal", "scale": {"domain": ["TR","WT"], "range": ["#E3174A","#3BB44A"]}, "legend": {"title": null}}}},
   {"mark": {"type": "circle", "size": 160, "opacity": 1}, "encoding": {"color": {"field": "g", "type": "nominal", "scale": {"domain": ["TR","WT"], "range": ["#E3174A","#3BB44A"]}, "legend": null}}}
  ]}
]},
{"spacing": 219, "bounds": "flush", "resolve": {"scale": {"color": "independent"}, "legend": {"color": "independent"}}, "hconcat": [
 {"title": "Methylmalonic acid", "width": 798, "height": 568, "transform": [{"filter": "datum.m === 'Met'"}],
  "encoding": {"x": {"field": "t", "type": "quantitative", "scale": {"domain": [-0.16, 4.16], "nice": false, "zero": false}, "axis": {"values": [0,1,2,3,4], "format": "d", "title": "Time"}},
   "y": {"field": "v", "type": "quantitative", "scale": {"domain": [-0.933, 1.271], "nice": false, "zero": false}, "axis": {"values": [-0.5,0,0.5,1], "title": "Abundance", "labelExpr": "datum.value < 0 ? '-' + format(-datum.value, '.1f') : format(datum.value, '.1f')"}}},
  "layer": [
   {"mark": {"type": "line", "strokeWidth": 2.3}, "encoding": {"detail": {"field": "r"}, "color": {"field": "g", "type": "nominal", "scale": {"domain": ["TR","WT"], "range": ["#E3174A","#3BB44A"]}, "legend": {"title": null}}}},
   {"mark": {"type": "circle", "size": 160, "opacity": 1}, "encoding": {"color": {"field": "g", "type": "nominal", "scale": {"domain": ["TR","WT"], "range": ["#E3174A","#3BB44A"]}, "legend": null}}}
  ]},
 {"title": {"text": "Succinic acid", "offset": 21}, "width": 792, "height": 564, "transform": [{"filter": "datum.m === 'Suc'"}],
  "encoding": {"x": {"field": "t", "type": "quantitative", "scale": {"domain": [-0.16, 4.16], "nice": false, "zero": false}, "axis": {"values": [0,1,2,3,4], "format": "d", "title": "Time"}},
   "y": {"field": "v", "type": "quantitative", "scale": {"domain": [-0.995, 1.02], "nice": false, "zero": false}, "axis": {"values": [-0.5,0,0.5,1], "title": "Abundance", "labelExpr": "datum.value < 0 ? '-' + format(-datum.value, '.1f') : format(datum.value, '.1f')"}}},
  "layer": [
   {"mark": {"type": "line", "strokeWidth": 2.3}, "encoding": {"detail": {"field": "r"}, "color": {"field": "g", "type": "nominal", "scale": {"domain": ["TR","WT"], "range": ["#E3174A","#3BB44A"]}, "legend": {"title": null}}}},
   {"mark": {"type": "circle", "size": 160, "opacity": 1}, "encoding": {"color": {"field": "g", "type": "nominal", "scale": {"domain": ["TR","WT"], "range": ["#E3174A","#3BB44A"]}, "legend": null}}}
  ]}
]},
{"spacing": 205, "bounds": "flush", "resolve": {"scale": {"color": "independent"}, "legend": {"color": "independent"}}, "hconcat": [
 {"title": "L-Ornithine", "width": 808, "height": 584, "transform": [{"filter": "datum.m === 'Orn'"}],
  "encoding": {"x": {"field": "t", "type": "quantitative", "scale": {"domain": [-0.16, 4.16], "nice": false, "zero": false}, "axis": {"values": [0,1,2,3,4], "format": "d", "title": "Time"}},
   "y": {"field": "v", "type": "quantitative", "scale": {"domain": [-1.169, 1.816], "nice": false, "zero": false}, "axis": {"values": [-1,-0.5,0,0.5,1,1.5], "title": "Abundance", "labelExpr": "datum.value < 0 ? '-' + format(-datum.value, '.1f') : format(datum.value, '.1f')"}}},
  "layer": [
   {"mark": {"type": "line", "strokeWidth": 2.3}, "encoding": {"detail": {"field": "r"}, "color": {"field": "g", "type": "nominal", "scale": {"domain": ["TR","WT"], "range": ["#E3174A","#3BB44A"]}, "legend": {"title": null}}}},
   {"mark": {"type": "circle", "size": 160, "opacity": 1}, "encoding": {"color": {"field": "g", "type": "nominal", "scale": {"domain": ["TR","WT"], "range": ["#E3174A","#3BB44A"]}, "legend": null}}}
  ]},
 {"title": "N-acetylornithine", "width": 808, "height": 584, "transform": [{"filter": "datum.m === 'NAc'"}],
  "encoding": {"x": {"field": "t", "type": "quantitative", "scale": {"domain": [-0.16, 4.16], "nice": false, "zero": false}, "axis": {"values": [0,1,2,3,4], "format": "d", "title": "Time"}},
   "y": {"field": "v", "type": "quantitative", "scale": {"domain": [-0.497, 0.572], "nice": false, "zero": false}, "axis": {"values": [-0.4,-0.2,0,0.2,0.4], "title": "Abundance", "labelExpr": "datum.value < 0 ? '-' + format(-datum.value, '.1f') : format(datum.value, '.1f')"}}},
  "layer": [
   {"mark": {"type": "line", "strokeWidth": 2.3}, "encoding": {"detail": {"field": "r"}, "color": {"field": "g", "type": "nominal", "scale": {"domain": ["TR","WT"], "range": ["#E3174A","#3BB44A"]}, "legend": {"title": null}}}},
   {"mark": {"type": "circle", "size": 160, "opacity": 1}, "encoding": {"color": {"field": "g", "type": "nominal", "scale": {"domain": ["TR","WT"], "range": ["#E3174A","#3BB44A"]}, "legend": null}}}
  ]},
 {"title": {"text": "Putrescine", "offset": 28}, "width": 808, "height": 584, "transform": [{"filter": "datum.m === 'Put'"}],
  "encoding": {"x": {"field": "t", "type": "quantitative", "scale": {"domain": [-0.16, 4.16], "nice": false, "zero": false}, "axis": {"values": [0,1,2,3,4], "format": "d", "title": "Time"}},
   "y": {"field": "v", "type": "quantitative", "scale": {"domain": [-1.329, 2.002], "nice": false, "zero": false}, "axis": {"values": [-1,-0.5,0,0.5,1,1.5,2], "title": "Abundance", "labelExpr": "datum.value < 0 ? '-' + format(-datum.value, '.1f') : format(datum.value, '.1f')"}}},
  "layer": [
   {"mark": {"type": "line", "strokeWidth": 2.3}, "encoding": {"detail": {"field": "r"}, "color": {"field": "g", "type": "nominal", "scale": {"domain": ["TR","WT"], "range": ["#E3174A","#3BB44A"]}, "legend": {"title": null}}}},
   {"mark": {"type": "circle", "size": 160, "opacity": 1}, "encoding": {"color": {"field": "g", "type": "nominal", "scale": {"domain": ["TR","WT"], "range": ["#E3174A","#3BB44A"]}, "legend": null}}}
  ]}
]}
]
}
